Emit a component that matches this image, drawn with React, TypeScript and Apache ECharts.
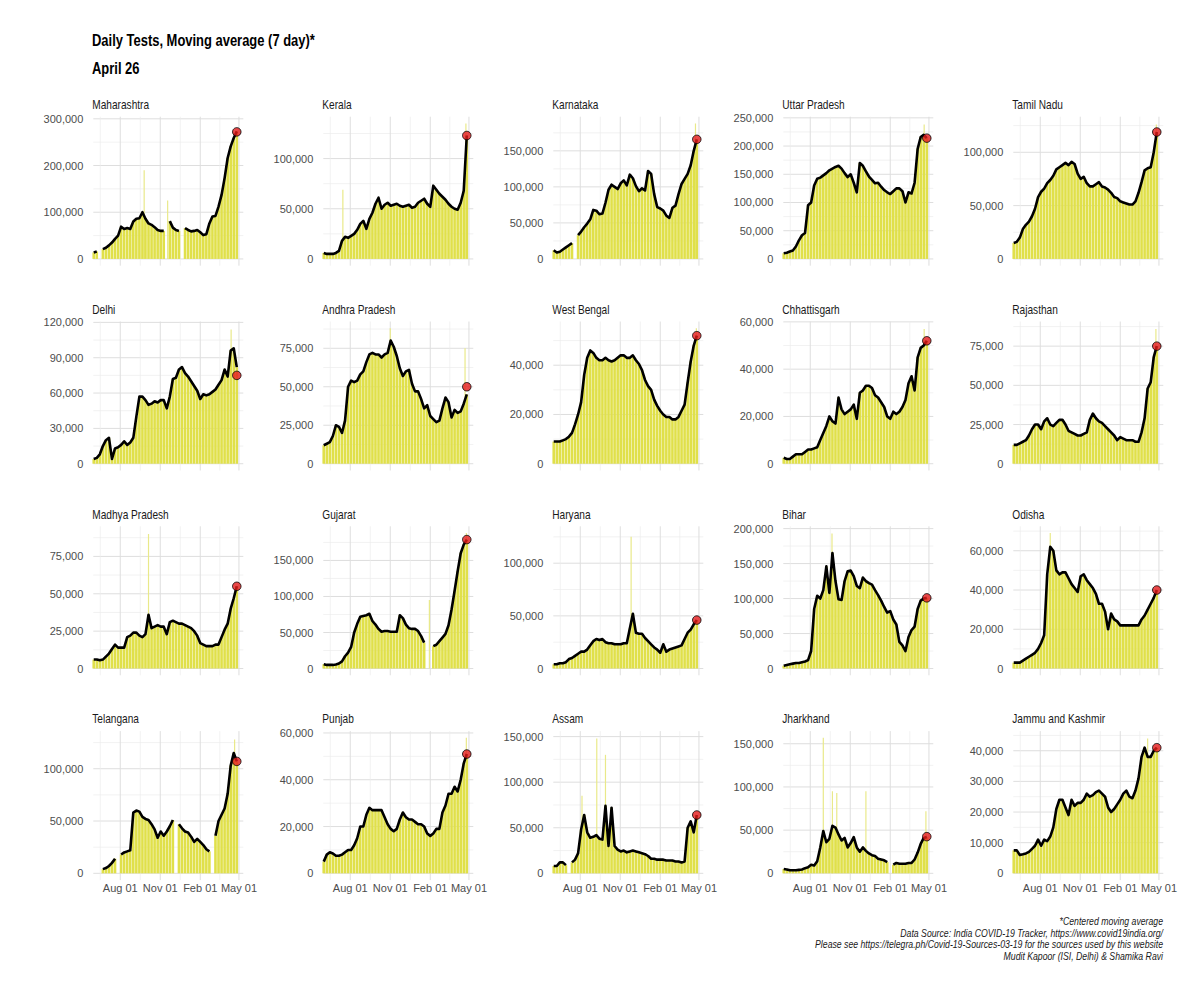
import React, { useEffect, useRef } from 'react';
import * as echarts from 'echarts';

// ---------------- DATA ----------------
// Weekly readings (every 7 days from 2020-06-01 to 2021-04-26) of the 7-day
// centred moving average of daily tests, in thousands; null = no data.
const START_DATE = '2020-06-01';
const AXIS_START = '2020-05-31';
const AXIS_END = '2021-05-11';
const xTickDates = ['2020-08-01', '2020-11-01', '2021-02-01', '2021-05-01'];
const xTickLabels = ['Aug 01', 'Nov 01', 'Feb 01', 'May 01'];
const xMinorDates = ['2020-06-16', '2020-09-16', '2020-12-17', '2021-03-18'];

const states = [
  'Maharashtra', 'Kerala', 'Karnataka', 'Uttar Pradesh', 'Tamil Nadu',
  'Delhi', 'Andhra Pradesh', 'West Bengal', 'Chhattisgarh', 'Rajasthan',
  'Madhya Pradesh', 'Gujarat', 'Haryana', 'Bihar', 'Odisha',
  'Telangana', 'Punjab', 'Assam', 'Jharkhand', 'Jammu and Kashmir',
];

const maharashtra = [14, 16, null, 21, 24, 29, 35, 43, 50, 69, 64, 66, 64, 80, 86, 87, 100, 86, 76, 73, 68, 62, 60, 60, null, 81, 67, 62, 60, null, 66, 62, 59, 60, 62, 57, 51, 53, 76, 91, 92, 112, 137, 173, 216, 241, 259, 273];
const kerala = [6, 5, 5, 5, 6, 8, 18, 22, 21, 23, 25, 29, 35, 38, 30, 40, 46, 55, 61, 50, 54, 56, 53, 54, 55, 53, 52, 53, 54, 51, 52, 56, 58, 60, 55, 52, 73, 69, 65, 62, 59, 55, 52, 50, 49, 56, 68, 123];
const karnataka = [12, 9, 10, 13, 16, 19, 22, null, 33, 38, 44, 49, 55, 68, 67, 62, 63, 78, 96, 103, 100, 97, 105, 109, 102, 117, 112, 101, 94, 98, 95, 122, 118, 90, 72, 70, 67, 60, 57, 71, 74, 90, 104, 111, 118, 130, 150, 166];
const uttarPradesh = [10, 11, 13, 15, 22, 33, 42, 46, 95, 100, 130, 142, 144, 148, 152, 157, 160, 163, 165, 160, 152, 145, 150, 135, 118, 170, 165, 155, 146, 140, 134, 135, 128, 122, 118, 115, 120, 125, 125, 120, 100, 118, 116, 135, 195, 216, 220, 214];
const tamilNadu = [15, 16, 20, 28, 32, 35, 40, 47, 58, 63, 66, 71, 74, 78, 84, 86, 88, 90, 88, 91, 89, 80, 75, 77, 71, 68, 68, 70, 72, 68, 67, 65, 62, 58, 57, 54, 53, 52, 51, 51, 54, 62, 72, 83, 85, 86, 100, 119];
const delhi = [4, 5, 8, 15, 20, 22, 4, 13, 14, 16, 19, 16, 18, 22, 40, 57, 57, 54, 50, 51, 53, 52, 54, 54, 47, 57, 72, 73, 80, 82, 77, 74, 70, 66, 62, 55, 59, 58, 59, 61, 63, 67, 71, 80, 74, 96, 98, 82];
const andhraPradesh = [12, 13, 14, 18, 25, 24, 20, 28, 50, 54, 53, 54, 58, 60, 66, 71, 72, 71, 71, 69, 71, 72, 80, 76, 70, 62, 57, 60, 61, 52, 47, 47, 42, 36, 38, 31, 29, 27, 28, 36, 43, 40, 30, 35, 33, 34, 39, 45];
const westBengal = [9, 9, 9, 9.5, 10, 11, 12.5, 16, 20, 25, 36, 43, 46, 45, 43, 42, 42, 43, 42, 41.5, 42, 43, 44, 44, 43, 43, 44, 42, 40.5, 38, 34, 31.5, 30, 26, 23.5, 21.5, 20, 19, 19, 18, 18, 19, 21.5, 24, 33, 41.5, 48, 52];
const chhattisgarh = [2.5, 2, 2, 3, 4, 4, 4, 5, 6, 6, 6.5, 7, 10, 13, 16, 20, 18, 17, 28, 23, 21, 22, 23, 25, 19, 30, 31, 33, 33, 32, 29, 28, 26, 24, 20, 19, 22, 21, 22, 24, 27, 34, 37, 31, 45, 49, 50, 52];
const rajasthan = [12, 12, 13, 14, 15, 18, 22, 25, 25, 22, 27, 29, 25, 24, 26, 28, 28, 25, 21, 20, 19, 18, 18, 19, 20, 28, 32, 29, 27, 26, 24, 22, 20, 18, 15, 17, 16, 15, 15, 15, 14, 14, 20, 29, 48, 52, 68, 75];
const madhyaPradesh = [6, 6, 5.5, 6, 8, 10, 13, 16, 14, 14, 14, 21, 22, 24, 24, 22, 21, 23, 36, 27, 28, 29, 28, 28, 23, 31, 32, 31, 30, 30, 29, 28, 27, 25, 22, 17, 16, 15, 15, 15, 16, 16, 21, 26, 30, 40, 47, 55];
const gujarat = [6, 5, 5, 5, 5.5, 7, 10, 17, 22, 30, 50, 62, 72, 73, 74, 76, 66, 61, 55, 51, 52, 52, 51, 51, 51, 74, 70, 61, 56, 55, 55, 52, 45, 36, null, null, 31, 33, 38, 43, 48, 60, 82, 108, 135, 160, 172, 179];
const haryana = [4, 4, 5, 5, 6, 9, 10, 12, 14, 16, 16, 18, 22, 26, 28, 27, 28, 25, 24, 24, 23, 23, 23, 24, 24, 38, 52, 34, 33, 33, 29, 26, 23, 20, 18, 15, 23, 16, 18, 19, 20, 21, 22, 28, 34, 37, 42, 46];
const bihar = [4, 5, 6, 7, 8, 8, 9, 10, 12, 25, 85, 104, 100, 112, 146, 108, 165, 125, 99, 98, 125, 139, 140, 132, 118, 115, 130, 125, 122, 120, 112, 105, 97, 88, 80, 82, 70, 63, 38, 33, 25, 45, 55, 60, 85, 97, 100, 101];
const odisha = [3, 3, 3, 4, 5, 6, 7, 8, 10, 13, 17, 48, 62, 60, 50, 48, 49, 49, 46, 43, 41, 39, 47, 48, 45, 43, 41, 38, 33, 33, 29, 20, 28, 25, 24, 22, 22, 22, 22, 22, 22, 22, 25, 27, 30, 33, 36, 40];
const telangana = [null, null, null, 4, 5, 7, 10, 14, null, 18, 20, 21, 22, 58, 60, 59, 54, 52, 51, 47, 42, 34, 40, 36, 40, 45, 51, null, 47, 43, 40, 39, 35, 30, 33, 30, 27, 23, 21, null, 36, 50, 56, 62, 76, 103, 115, 107];
const punjab = [5, 8, 9, 8.5, 7.5, 7.5, 8, 9, 10, 10, 12, 15, 20, 20, 25, 28, 27, 27, 27, 27, 24, 21, 19, 18, 19, 23, 26, 24, 23, 23, 22, 21, 21, 20, 17, 16, 17, 19, 19, 26, 29, 34, 34, 37, 35, 40, 47, 51];
const assam = [8, 8, 12, 12, 9, null, 12, 15, 22, 48, 64, 45, 39, 40, 42, 38, 37, 74, 30, 72, 30, 26, 24, 25, 23, 24, 25, 24, 23, 22, 21, 19, 16, 16, 15, 15, 15, 14, 14, 14, 13, 13, 12, 13, 50, 57, 45, 64];
const jharkhand = [5, 4.5, 3.5, 3.5, 3.5, 4, 4.5, 6, 7, 10, 9, 14, 30, 49, 36, 40, 55, 53, 45, 38, 41, 30, 35, 42, 30, 25, 30, 26, 23, 21, 20, 17, 16, 15, 13, null, 10, 12, 11, 11, 11, 12, 12, 16, 24, 34, 41, 42];
const jammuKashmir = [7.5, 7.5, 6, 6.2, 6.5, 7, 8, 9, 11, 9, 11, 10.5, 12, 15, 21, 24, 24, 21.5, 19, 24, 22, 23, 23, 24, 26, 25, 25.5, 26.5, 27, 26, 25, 21.5, 20, 21, 22.5, 24, 26, 27, 25, 24.5, 27, 31, 38, 41, 38, 38, 40, 41];

const movingAverage = [
  maharashtra, kerala, karnataka, uttarPradesh, tamilNadu,
  delhi, andhraPradesh, westBengal, chhattisgarh, rajasthan,
  madhyaPradesh, gujarat, haryana, bihar, odisha,
  telangana, punjab, assam, jharkhand, jammuKashmir,
];

// value highlighted in red on April 26 (thousands)
const latestValue = [272, 123, 166, 214, 119, 75, 50, 52, 52, 75, 55, 179, 46, 101, 40, 107, 51, 64, 42.5, 41];

// single-day spikes of daily tests visible above the average (date, thousands)
const spikes: [string, number][][] = [
  [['2020-09-25', 190], ['2020-11-18', 125]],
  [['2020-07-15', 69], ['2021-04-24', 135]],
  [['2021-04-23', 188]],
  [['2021-04-20', 238]],
  [['2021-04-25', 126]],
  [['2021-04-13', 114]],
  [['2020-11-01', 88], ['2021-04-22', 75]],
  [['2021-04-25', 55]],
  [['2021-04-20', 57]],
  [['2021-04-24', 86]],
  [['2020-10-05', 90]],
  [['2021-01-30', 95], ['2021-04-25', 188]],
  [['2020-11-26', 125]],
  [['2020-09-20', 193]],
  [['2020-08-24', 69]],
  [['2021-04-21', 128]],
  [['2021-04-25', 58]],
  [['2020-08-05', 85], ['2020-09-08', 148], ['2020-09-28', 130]],
  [['2020-08-31', 157], ['2020-09-21', 95], ['2020-10-01', 93], ['2020-12-07', 95], ['2021-04-24', 72]],
  [['2021-04-05', 44]],
];

// largest daily value of each panel (thousands) and y tick step (thousands)
const yDataMax = [290, 135, 188, 240, 127, 115, 88, 55, 57.3, 86.4, 90.6, 188, 128.6, 193.6, 69, 129.5, 57.9, 148.6, 156.8, 44.2];
const yTickStep = [100, 50, 50, 50, 50, 30, 25, 20, 20, 25, 25, 50, 50, 50, 20, 50, 20, 50, 50, 10];

const titleLines = ['Daily Tests, Moving average (7 day)*', 'April 26'];
const captionLines = [
  '*Centered moving average',
  'Data Source: India COVID-19 Tracker, https://www.covid19india.org/',
  'Please see https://telegra.ph/Covid-19-Sources-03-19 for the sources used by this website',
  'Mudit Kapoor (ISI, Delhi) & Shamika Ravi',
];

// ---------------- STYLE ----------------
const FONT = "'Liberation Sans', Arial, sans-serif";
const NARROW = 0.81; // horizontal squeeze imitating a narrow typeface
const BAR = '#e0e04a';
const SPIKE = '#e9e98a';
const GRID_MAJOR = '#dedede';
const GRID_MINOR = '#ececec';
const LABEL = '#4d4d4d';

const DAY_MS = 86400000;
const dayIndex = (s: string) => (Date.parse(s + 'T00:00:00Z') - Date.parse(AXIS_START + 'T00:00:00Z')) / DAY_MS;

const narrowText = (text: string, x: number, y: number, size: number, opts: any = {}) => ({
  type: 'text',
  x,
  y,
  scaleX: opts.scaleX || NARROW,
  silent: true,
  style: {
    text,
    fontFamily: FONT,
    fontSize: size,
    fontWeight: opts.weight || 'normal',
    fontStyle: opts.style || 'normal',
    fill: opts.color || '#1a1a1a',
    align: opts.align || 'left',
    verticalAlign: 'middle',
  },
});

export default function App() {
  const ref = useRef<HTMLDivElement>(null);

  useEffect(() => {
    if (!ref.current) return;
    const chart = echarts.init(ref.current, null, { renderer: 'svg' });

    const xMin = 0;
    const xMax = dayIndex(AXIS_END);
    const start = dayIndex(START_DATE);
    const weekDays = maharashtra.map((_, i) => start + 7 * i);
    const xTicks = xTickDates.map(dayIndex);
    const xMinors = xMinorDates.map(dayIndex);

    const graphics: any[] = [
      narrowText(titleLines[0], 92, 41, 16, { weight: 'bold', color: '#000' }),
      narrowText(titleLines[1], 92, 69, 16, { weight: 'bold', color: '#000' }),
    ];
    captionLines.forEach((t, j) => {
      graphics.push(narrowText(t, 1163, 921.5 + j * 11.5, 10.5, { style: 'italic', align: 'right', color: '#1a1a1a', scaleX: 0.83 }));
    });

    const grids: any[] = [];
    const xAxes: any[] = [];
    const yAxes: any[] = [];
    const series: any[] = [];

    const gridRender = (params: any, api: any) => {
      const cs = params.coordSys;
      const kind = api.value(2);
      const pt = api.coord([api.value(0), api.value(1)]);
      const major = kind === 0 || kind === 2;
      const style = { stroke: major ? GRID_MAJOR : GRID_MINOR, lineWidth: major ? 1 : 0.7 };
      if (kind < 2) {
        return { type: 'line', shape: { x1: cs.x, y1: pt[1], x2: cs.x + cs.width, y2: pt[1] }, style };
      }
      return { type: 'line', shape: { x1: pt[0], y1: cs.y, x2: pt[0], y2: cs.y + cs.height }, style };
    };
    const spikeRender = (params: any, api: any) => {
      const p0 = api.coord([api.value(0), 0]);
      const p1 = api.coord([api.value(0), api.value(1)]);
      return { type: 'rect', shape: { x: p0[0] - 0.6, y: p1[1], width: 1.2, height: p0[1] - p1[1] }, style: { fill: SPIKE } };
    };

    states.forEach((name, k) => {
      const c = k % 5;
      const r = Math.floor(k / 5);
      const left = 93.3 + 230 * c;
      const top = 116.7 + 204.8 * r;
      const M = yDataMax[k] * 1000;
      const step = yTickStep[k] * 1000;
      const yMin = -0.05 * M;
      const yMax = 1.05 * M;
      const majors: number[] = [];
      for (let v = 0; v <= yMax; v += step) majors.push(v);
      const minors: number[] = [];
      for (let v = step / 2; v <= yMax; v += step) minors.push(v);

      grids.push({ left, top, width: 150, height: 149 });
      graphics.push(narrowText(name, left - 1, top - 12, 12.5, { color: '#1a1a1a' }));

      xAxes.push({
        type: 'value', gridIndex: k, min: xMin, max: xMax,
        axisLine: { show: false }, axisTick: { show: false }, splitLine: { show: false },
        axisLabel: {
          show: r === 3, customValues: xTicks, margin: 2,
          fontFamily: FONT, fontSize: 11, color: LABEL,
          formatter: (v: number) => { const j = xTicks.findIndex((t) => Math.abs(t - v) < 0.01); return j >= 0 ? xTickLabels[j] : ''; },
        },
      });
      yAxes.push({
        type: 'value', gridIndex: k, min: yMin, max: yMax,
        axisLine: { show: false }, axisTick: { show: false }, splitLine: { show: false },
        axisLabel: {
          customValues: majors, margin: 10,
          fontFamily: FONT, fontSize: 11, color: LABEL,
          formatter: (v: number) => (v >= 0 && Math.abs(v / step - Math.round(v / step)) < 1e-6 ? Math.round(v).toLocaleString('en-US') : ''),
        },
      });

      const gridData: number[][] = [];
      majors.forEach((v) => gridData.push([xMin, v, 0]));
      minors.forEach((v) => gridData.push([xMin, v, 1]));
      xTicks.forEach((d) => gridData.push([d, 0, 2]));
      xMinors.forEach((d) => gridData.push([d, 0, 3]));

      const vals = movingAverage[k];
      const pts = weekDays.map((d, i) => [d, vals[i] == null ? null : (vals[i] as number) * 1000]);

      series.push({
        type: 'custom', xAxisIndex: k, yAxisIndex: k, data: gridData, renderItem: gridRender,
        encode: { x: 0, y: 1 }, silent: true, z: 0, clip: false,
      });
      series.push({
        type: 'bar', xAxisIndex: k, yAxisIndex: k, data: pts, barWidth: 2.6,
        itemStyle: { color: BAR }, silent: true, z: 1,
      });
      series.push({
        type: 'custom', xAxisIndex: k, yAxisIndex: k,
        data: spikes[k].map(([d, v]) => [dayIndex(d), v * 1000]),
        renderItem: spikeRender, encode: { x: 0, y: 1 }, silent: true, z: 1,
      });
      series.push({
        type: 'line', xAxisIndex: k, yAxisIndex: k, data: pts, showSymbol: false,
        connectNulls: false, lineStyle: { color: '#000', width: 2.6, join: 'round' },
        silent: true, z: 3,
      });
      series.push({
        type: 'scatter', xAxisIndex: k, yAxisIndex: k,
        data: [[weekDays[weekDays.length - 1], latestValue[k] * 1000]],
        symbolSize: 8.5, itemStyle: { color: '#e31a1c', borderColor: '#000', borderWidth: 1 },
        silent: true, z: 4,
      });
    });

    chart.setOption({
      animation: false,
      backgroundColor: '#ffffff',
      graphic: { elements: graphics },
      grid: grids,
      xAxis: xAxes,
      yAxis: yAxes,
      series,
    });

    return () => chart.dispose();
  }, []);

  return (
    <div
      ref={ref}
      style={{ position: 'absolute', left: 0, top: 0, width: 1200, height: 999, background: '#fff' }}
    />
  );
}
